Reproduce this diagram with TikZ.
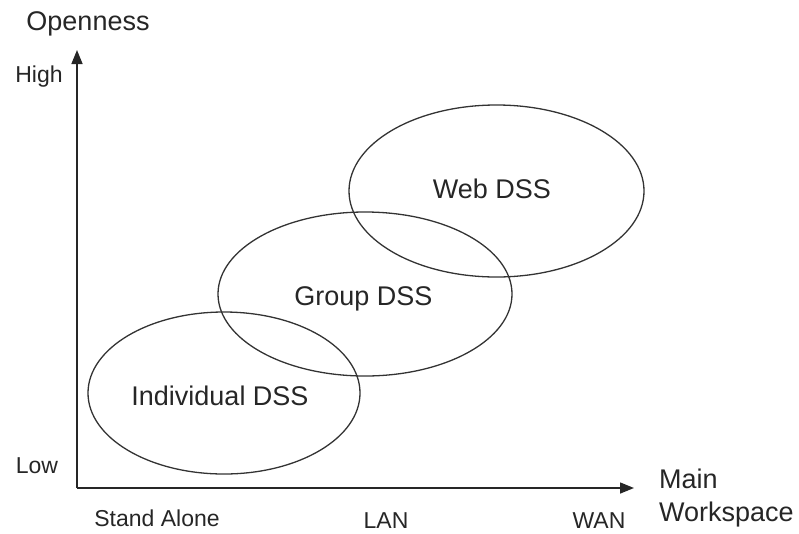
\documentclass[tikz,border=0pt]{standalone}
\usepackage{fontspec}
\setmainfont{Liberation Sans}
\usetikzlibrary{shapes.geometric,arrows.meta}
\begin{document}
\begin{tikzpicture}[x=1pt,y=-1pt,
  axis/.style={draw=black!85, line width=1.5pt, -{Triangle[length=14pt,width=11pt]}},
  region/.style={draw=black!80, line width=1.3pt, ellipse, inner sep=0pt},
  biglabel/.style={font=\fontsize{27}{32}\selectfont, text=black!85, inner sep=0pt, anchor=base},
  smalllabel/.style={font=\fontsize{23}{27}\selectfont, text=black!85, inner sep=0pt, anchor=base}]
  \useasboundingbox (0,0) rectangle (799,533);

  % axes
  \coordinate (origin) at (77,488);
  \coordinate (ytip) at (77,50);
  \coordinate (xtip) at (634,488);
  \draw[axis] (origin) -- (ytip);
  \draw[axis] (origin) -- (xtip);

  % overlapping DSS regions
  \node[region, minimum width=272pt, minimum height=162pt] (indiv) at (224,393) {};
  \node[region, minimum width=294pt, minimum height=164pt] (group) at (365,294) {};
  \node[region, minimum width=295pt, minimum height=172pt] (web) at (496.5,191) {};

  \node[biglabel] (indivtext) at (220,405) {Individual DSS};
  \node[biglabel] (grouptext) at (363.5,305) {Group DSS};
  \node[biglabel] (webtext) at (492,198) {Web DSS};

  % axis titles and scale labels
  \node[biglabel] (yname) at (88,30) {Openness};
  \node[smalllabel] (high) at (39,82) {High};
  \node[smalllabel] (low) at (37,473) {Low};
  \node[smalllabel] (standalone) at (157,526) {Stand Alone};
  \node[smalllabel] (lan) at (386,528) {LAN};
  \node[smalllabel] (wan) at (599,528) {WAN};
  \node[biglabel, anchor=base west] (main) at (659,488) {Main};
  \node[biglabel, anchor=base west] (workspace) at (659,521) {Workspace};
\end{tikzpicture}
\end{document}
